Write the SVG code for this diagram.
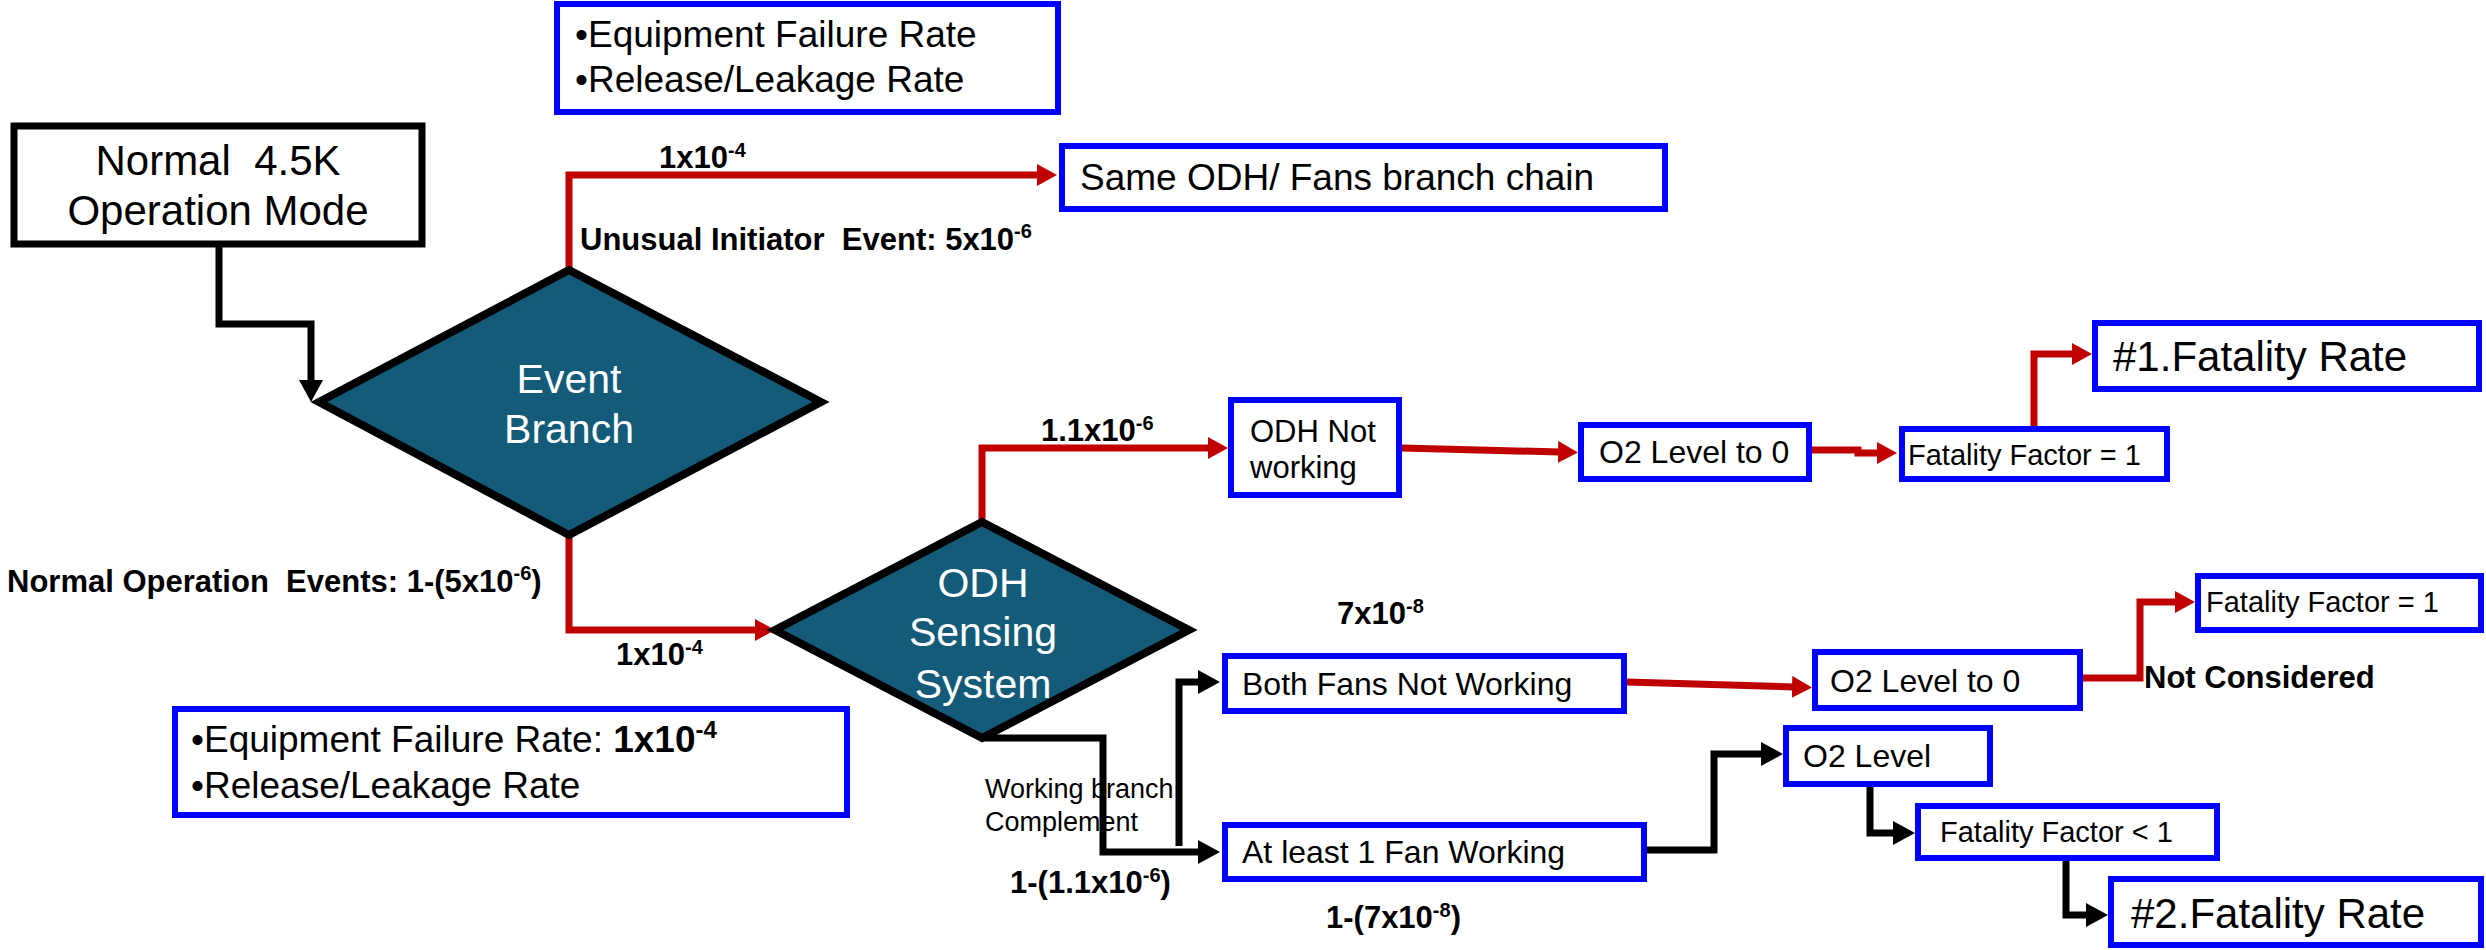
<svg xmlns="http://www.w3.org/2000/svg" width="2486" height="950" viewBox="0 0 2486 950">
  <defs>
    <style>
      text { font-family: "Liberation Sans", Arial, sans-serif; fill: #000; }
      .box { fill: #fff; stroke: #0000ff; stroke-width: 6; }
      .start { fill: #fff; stroke: #000; stroke-width: 7; }
      .dia { fill: #135b78; stroke: #000; stroke-width: 8; stroke-linejoin: miter; }
      .dtxt { fill: #fff; font-size: 41px; text-anchor: middle; }
      .lbl { font-weight: bold; font-size: 31px; }
      .red { fill: none; stroke: #c00000; stroke-width: 7; marker-end: url(#ahRed); }
      .blk { fill: none; stroke: #000; stroke-width: 7; marker-end: url(#ahBlk); }
    </style>
    <marker id="ahRed" viewBox="0 0 20 22" refX="2" refY="11" markerWidth="20" markerHeight="22" markerUnits="userSpaceOnUse" orient="auto">
      <path d="M0,0 L20,11 L0,22 Z" fill="#c00000"/>
    </marker>
    <marker id="ahBlk" viewBox="0 0 22 24" refX="2" refY="12" markerWidth="22" markerHeight="24" markerUnits="userSpaceOnUse" orient="auto">
      <path d="M0,0 L22,12 L0,24 Z" fill="#000"/>
    </marker>
  </defs>

  <rect width="2486" height="950" fill="#fff"/>

  <!-- connectors -->
  <g id="connectors">
    <path class="blk" d="M219,247 V324 H311 V382"/>
    <path class="red" d="M569,270 V175 H1039"/>
    <path class="red" d="M569,535 V630 H757"/>
    <path class="red" d="M982,522 V448 H1210"/>
    <path class="red" d="M1402,448 L1560,452"/>
    <path class="red" d="M1812,450 H1858 V453 H1879"/>
    <path class="red" d="M2034,426 V354 H2074"/>
    <path class="red" d="M1627,682 L1794,687"/>
    <path class="red" d="M2083,678 H2140 V602 H2177"/>
    <path class="blk" d="M982,738 H1103 V852 H1200"/>
    <path class="blk" d="M1179,846 V682 H1200"/>
    <path class="blk" d="M1647,850 H1714 V754 H1763"/>
    <path class="blk" d="M1870,787 V833 H1895"/>
    <path class="blk" d="M2066,861 V915 H2088"/>
  </g>

  <!-- edge labels -->
  <g id="labels">
    <text class="lbl" x="659" y="168">1x10<tspan dy="-11" font-size="20">-4</tspan></text>
    <text class="lbl" x="580" y="250" xml:space="preserve">Unusual Initiator  Event: 5x10<tspan dy="-12" font-size="20">-6</tspan></text>
    <text class="lbl" x="7" y="592" xml:space="preserve">Normal Operation  Events: 1-(5x10<tspan dy="-12" font-size="20">-6</tspan><tspan dy="12">)</tspan></text>
    <text class="lbl" x="616" y="665">1x10<tspan dy="-11" font-size="20">-4</tspan></text>
    <text class="lbl" x="1041" y="441">1.1x10<tspan dy="-11" font-size="20">-6</tspan></text>
    <text class="lbl" x="1337" y="624">7x10<tspan dy="-11" font-size="20">-8</tspan></text>
    <text class="lbl" x="1010" y="893">1-(1.1x10<tspan dy="-11" font-size="20">-6</tspan><tspan dy="11">)</tspan></text>
    <text class="lbl" x="1326" y="928">1-(7x10<tspan dy="-11" font-size="20">-8</tspan><tspan dy="11">)</tspan></text>
    <text class="lbl" x="2144" y="688">Not Considered</text>
    <text x="985" y="798" font-size="27px">Working branch</text>
    <text x="985" y="831" font-size="27px">Complement</text>
  </g>

  <!-- nodes -->
  <g id="info-top">
    <rect class="box" x="557" y="4" width="501" height="108"/>
    <text x="575" y="47" font-size="37px">•Equipment Failure Rate</text>
    <text x="575" y="92" font-size="37px">•Release/Leakage Rate</text>
  </g>

  <g id="normal-mode">
    <rect class="start" x="14" y="126" width="408" height="118"/>
    <text x="218" y="175" font-size="42px" text-anchor="middle" xml:space="preserve">Normal  4.5K</text>
    <text x="218" y="225" font-size="42px" text-anchor="middle">Operation Mode</text>
  </g>

  <g id="event-branch">
    <polygon class="dia" points="319,402 569,270 821,402 569,535"/>
    <text class="dtxt" x="569" y="393">Event</text>
    <text class="dtxt" x="569" y="443">Branch</text>
  </g>

  <g id="same-chain">
    <rect class="box" x="1062" y="146" width="603" height="63"/>
    <text x="1080" y="190" font-size="37px">Same ODH/ Fans branch chain</text>
  </g>

  <g id="odh-sensing">
    <polygon class="dia" points="775,630 982,522 1189,630 982,738"/>
    <text class="dtxt" x="983" y="597">ODH</text>
    <text class="dtxt" x="983" y="646">Sensing</text>
    <text class="dtxt" x="983" y="698">System</text>
  </g>

  <g id="info-bottom">
    <rect class="box" x="175" y="709" width="672" height="106"/>
    <text x="191" y="752" font-size="37px">•Equipment Failure Rate: <tspan font-weight="bold">1x10</tspan><tspan font-weight="bold" dy="-14" font-size="24px">-4</tspan></text>
    <text x="191" y="798" font-size="37px">•Release/Leakage Rate</text>
  </g>

  <g id="odh-not-working">
    <rect class="box" x="1231" y="400" width="168" height="95"/>
    <text x="1250" y="442" font-size="31px">ODH Not</text>
    <text x="1250" y="478" font-size="31px">working</text>
  </g>

  <g id="o2-zero-a">
    <rect class="box" x="1581" y="425" width="228" height="54"/>
    <text x="1599" y="463" font-size="32px">O2 Level to 0</text>
  </g>

  <g id="factor-one-a">
    <rect class="box" x="1902" y="429" width="265" height="50"/>
    <text x="1908" y="465" font-size="29px">Fatality Factor = 1</text>
  </g>

  <g id="fatality-1">
    <rect class="box" x="2095" y="323" width="384" height="66"/>
    <text x="2113" y="371" font-size="42px">#1.Fatality Rate</text>
  </g>

  <g id="both-fans">
    <rect class="box" x="1225" y="656" width="399" height="55"/>
    <text x="1242" y="695" font-size="32px">Both Fans Not Working</text>
  </g>

  <g id="o2-zero-b">
    <rect class="box" x="1815" y="652" width="265" height="56"/>
    <text x="1830" y="692" font-size="32px">O2 Level to 0</text>
  </g>

  <g id="factor-one-b">
    <rect class="box" x="2198" y="576" width="283" height="54"/>
    <text x="2206" y="612" font-size="29px">Fatality Factor = 1</text>
  </g>

  <g id="one-fan">
    <rect class="box" x="1225" y="825" width="419" height="54"/>
    <text x="1242" y="863" font-size="32px">At least 1 Fan Working</text>
  </g>

  <g id="o2-level">
    <rect class="box" x="1786" y="728" width="204" height="56"/>
    <text x="1803" y="767" font-size="32px">O2 Level</text>
  </g>

  <g id="factor-less">
    <rect class="box" x="1918" y="806" width="299" height="52"/>
    <text x="1940" y="842" font-size="29px">Fatality Factor &lt; 1</text>
  </g>

  <g id="fatality-2">
    <rect class="box" x="2111" y="879" width="370" height="66"/>
    <text x="2131" y="928" font-size="42px">#2.Fatality Rate</text>
  </g>
</svg>
